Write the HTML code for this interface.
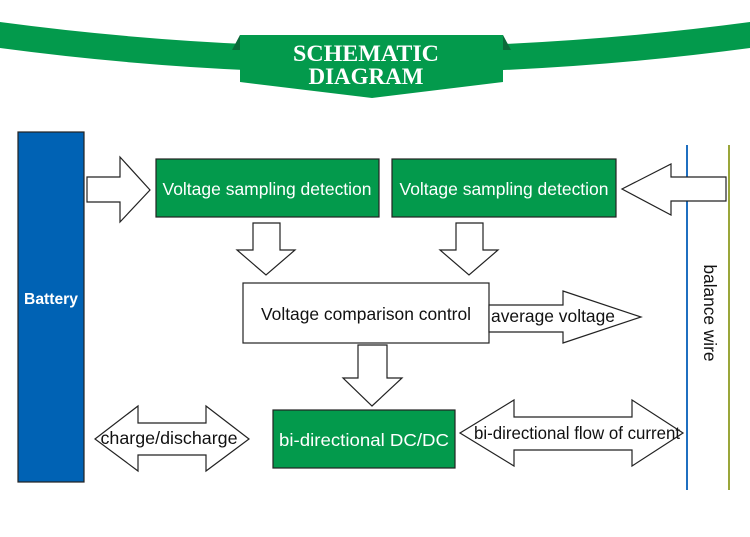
<!DOCTYPE html>
<html><head><style>
body{margin:0;background:#fff;width:750px;height:537px;overflow:hidden}
svg{display:block}
</style></head><body>
<svg width="750" height="537" viewBox="0 0 750 537" xmlns="http://www.w3.org/2000/svg" font-family="Liberation Sans, Arial, sans-serif">
<path d="M0 22 Q375 72 750 22 L750 48 Q375 98 0 48 Z" fill="#039a4c"/>
<polygon points="232,50 240,35 240,50" fill="#0b6b3a"/>
<polygon points="511,50 503,35 503,50" fill="#0b6b3a"/>
<polygon points="240,35 503,35 503,82 372,98 240,82" fill="#039a4c"/>
<text x="366" y="61" text-anchor="middle" fill="#fff" font-family="Liberation Serif, serif" font-weight="bold" font-size="23" textLength="146" lengthAdjust="spacingAndGlyphs">SCHEMATIC</text>
<text x="366" y="84" text-anchor="middle" fill="#fff" font-family="Liberation Serif, serif" font-weight="bold" font-size="23">DIAGRAM</text>

<g stroke="#222" stroke-width="1.2">
<rect x="18" y="132" width="66" height="350" fill="#0062b4"/>
<rect x="156" y="159" width="223" height="58" fill="#039a4c"/>
<rect x="392" y="159" width="224" height="58" fill="#039a4c"/>
<rect x="243" y="283" width="246" height="60" fill="#fff"/>
<rect x="273" y="410" width="182" height="58" fill="#039a4c"/>
</g>
<line x1="687" y1="145" x2="687" y2="490" stroke="#1f6fc0" stroke-width="2"/>
<line x1="729" y1="145" x2="729" y2="490" stroke="#9aa63a" stroke-width="2"/>

<g fill="#fff" stroke="#222" stroke-width="1.2">
<polygon points="87,177 120,177 120,157 150,190 120,222 120,202 87,202"/>
<polygon points="726,177 671,177 671,164 622,189 671,215 671,201 726,201"/>
<polygon points="253,223 280,223 280,250 295,250 266,275 237,250 253,250"/>
<polygon points="456,223 483,223 483,250 498,250 469,275 440,250 456,250"/>
<polygon points="489,305 563,305 563,291 641,317 563,343 563,332 489,332"/>
<polygon points="358,345 387,345 387,378 402,378 372,406 343,378 358,378"/>
<polygon points="95,439 138,406 138,423 206,423 206,406 249,439 206,471 206,455 138,455 138,471"/>
<polygon points="460,433 514,400 514,417 632,417 632,400 683,433 632,466 632,450 514,450 514,466"/>
</g>

<g font-size="17.5">
<text x="51" y="304" text-anchor="middle" fill="#fff" font-weight="bold" font-size="16" textLength="54" lengthAdjust="spacingAndGlyphs">Battery</text>
<text x="267" y="195" text-anchor="middle" fill="#fff" textLength="209" lengthAdjust="spacingAndGlyphs">Voltage sampling detection</text>
<text x="504" y="195" text-anchor="middle" fill="#fff" textLength="209" lengthAdjust="spacingAndGlyphs">Voltage sampling detection</text>
<text x="366" y="320" text-anchor="middle" fill="#111" textLength="210" lengthAdjust="spacingAndGlyphs">Voltage comparison control</text>
<text x="553" y="322" text-anchor="middle" fill="#111" textLength="124" lengthAdjust="spacingAndGlyphs">average voltage</text>
<text x="364" y="446" text-anchor="middle" fill="#fff" textLength="170" lengthAdjust="spacingAndGlyphs">bi-directional DC/DC</text>
<text x="169" y="444" text-anchor="middle" fill="#111" textLength="137" lengthAdjust="spacingAndGlyphs">charge/discharge</text>
<text x="577" y="439" text-anchor="middle" fill="#111" textLength="206" lengthAdjust="spacingAndGlyphs">bi-directional flow of current</text>
<text transform="translate(704,313) rotate(90)" text-anchor="middle" fill="#111" textLength="97" lengthAdjust="spacingAndGlyphs">balance wire</text>
</g>
</svg>
</body></html>
